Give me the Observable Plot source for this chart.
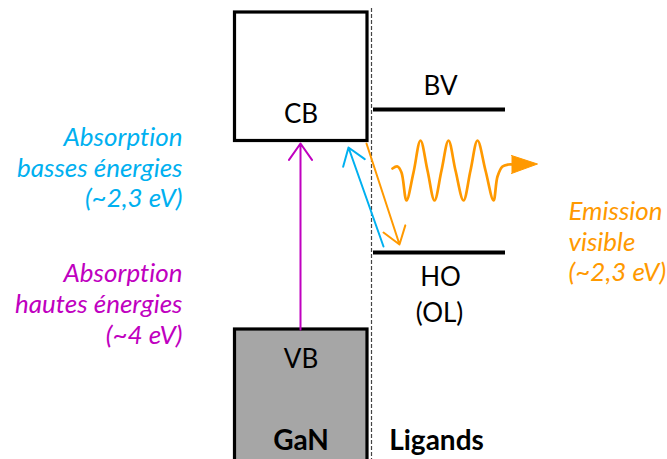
<!DOCTYPE html>
<html><head><meta charset="utf-8">
<script src="https://cdn.jsdelivr.net/npm/d3@7"></script>
<script src="https://cdn.jsdelivr.net/npm/@observablehq/plot@0.6"></script>
<style>body{margin:0;background:#fff} svg{display:block} svg text{font-variant-ligatures:none;font-feature-settings:"liga" 0}</style>
</head><body><div id="chart"></div>
<script>
// Diagram coordinates (one unit = one pixel of the 667x459 frame, y downward)
const bands = [
  {label: "CB", x1: 234.5, x2: 367, y1: 12, y2: 140.5},
  {label: "VB", x1: 234.5, x2: 367, y1: 329, y2: 470}
];
const bandText = [
  {text: "CB", x: 300.5, y: 114},
  {text: "VB", x: 300.5, y: 359}
];
const levels = [
  {label: "BV", y: 109, x1: 373, x2: 505},
  {label: "HO", y: 252, x1: 373, x2: 505}
];
const levelText = [
  {text: "BV", x: 440, y: 86},
  {text: "HO", x: 440, y: 277},
  {text: "(OL)", x: 439, y: 313}
];
const interfaceLine = {x: 371, y1: 8, y2: 459};
const transitions = [
  {kind: "high", x1: 300, y1: 329, x2: 300, y2: 143},
  {kind: "low", x1: 383, y1: 246, x2: 348, y2: 147},
  {kind: "emit", x1: 366, y1: 143, x2: 399, y2: 244}
];
const wave = [
  [392,168],[397,166],[401,172],[406,200],[413,172],[420,140],[427,170],
  [434,200],[441,170],[448,140],[455,170],[463,200],[470,170],[477,140],
  [485,170],[493,200],[497,176],[502,166],[508,164],[513,164]
];
const waveHead = [[511,155],[537,163.5],[511,173]];
const sideText = [
  {kind: "low", side: "left", lines: ["Absorption", "basses énergies", "(~2,3 eV)"], x: 182, y: [137, 168, 198]},
  {kind: "high", side: "left", lines: ["Absorption", "hautes énergies", "(~4 eV)"], x: 182, y: [273, 304, 335]},
  {kind: "emit", side: "right", lines: ["Emission", "visible", "(~2,3 eV)"], x: 568, y: [211, 242, 272]}
];
const footText = [
  {text: "GaN", x: 300.5, y: 441},
  {text: "Ligands", x: 436, y: 441}
];

const colors = {high: "#c000c0", low: "#00b0f0", emit: "#ff9900"};
const bandFill = {CB: "#ffffff", VB: "#a6a6a6"};
const FONT = "Lato, 'Open Sans', sans-serif";

const sideRows = sideText.flatMap(d => d.lines.map((t, i) => ({text: t, x: d.x, y: d.y[i], kind: d.kind, side: d.side})));
const leftRows = sideRows.filter(d => d.side === "left");
const rightRows = sideRows.filter(d => d.side === "right");

const plot = Plot.plot({
  width: 667, height: 459,
  margin: 0,
  x: {domain: [0, 667], range: [0, 667], axis: null},
  y: {domain: [0, 459], range: [0, 459], axis: null},
  style: {fontFamily: FONT, background: "white"},
  marks: [
    Plot.rect(bands, {x1: "x1", x2: "x2", y1: "y1", y2: "y2", fill: d => bandFill[d.label], stroke: "black", strokeWidth: 3.2}),
    Plot.ruleX([interfaceLine], {x: "x", y1: "y1", y2: "y2", stroke: "#444", strokeWidth: 1.2, strokeDasharray: "4,2"}),
    Plot.ruleY(levels, {y: "y", x1: "x1", x2: "x2", stroke: "black", strokeWidth: 4}),
    Plot.arrow(transitions, {x1: "x1", y1: "y1", x2: "x2", y2: "y2", stroke: d => colors[d.kind], strokeWidth: 2, headLength: 15, headAngle: 70}),
    Plot.line(wave, {x: d => d[0], y: d => d[1], curve: "catmull-rom", stroke: colors.emit, strokeWidth: 2.7}),
    Plot.line(waveHead, {x: d => d[0], y: d => d[1], fill: colors.emit, stroke: colors.emit, strokeWidth: 1}),
    Plot.text(bandText, {x: "x", y: "y", text: "text", fontSize: 26, fill: "black"}),
    Plot.text(levelText, {x: "x", y: "y", text: "text", fontSize: 26, fill: "black"}),
    Plot.text(footText, {x: "x", y: "y", text: "text", fontSize: 28, fontWeight: "bold", fill: "black"}),
    Plot.text(leftRows, {x: "x", y: "y", text: "text", fontSize: 26, fontStyle: "italic",
      textAnchor: "end", fill: d => colors[d.kind]}),
    Plot.text(rightRows, {x: "x", y: "y", text: "text", fontSize: 26, fontStyle: "italic",
      textAnchor: "start", fill: d => colors[d.kind]})
  ]
});
document.getElementById("chart").appendChild(plot);
</script>
</body></html>
